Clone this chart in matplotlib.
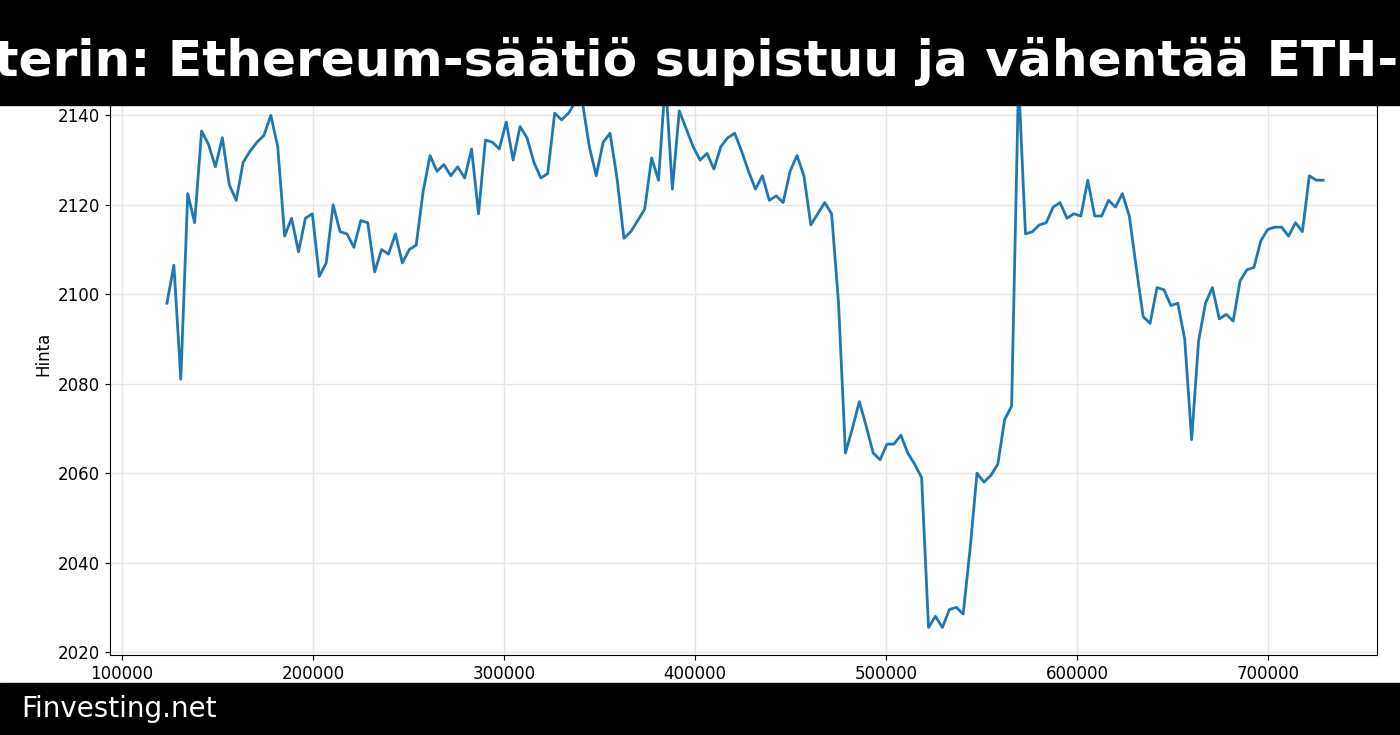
import numpy as np
import matplotlib
matplotlib.use("Agg")
import matplotlib.pyplot as plt

title = "Vitalik Buterin: Ethereum-säätiö supistuu ja vähentää ETH-myyntiä"
footer = "Finvesting.net"
ylabel = "Hinta"

prices = [
    2098, 2106.5, 2081, 2122.5, 2116, 2136.5, 2133.5, 2128.5, 2135, 2124.5,
    2121, 2129.5, 2132, 2134, 2135.5, 2140, 2133, 2113, 2117, 2109.5,
    2117, 2118, 2104, 2107, 2120, 2114, 2113.5, 2110.5, 2116.5, 2116,
    2105, 2110, 2109, 2113.5, 2107, 2110, 2111, 2123, 2131, 2127.5,
    2129, 2126.5, 2128.5, 2126, 2132.5, 2118, 2134.5, 2134, 2132.5, 2138.5,
    2130, 2137.5, 2135, 2129.5, 2126, 2127, 2140.5, 2139, 2140.5, 2143,
    2143, 2133, 2126.5, 2134, 2136, 2126, 2112.5, 2114, 2116.5, 2119,
    2130.5, 2125.5, 2148, 2123.5, 2141, 2137, 2133, 2130, 2131.5, 2128,
    2133, 2135, 2136, 2132, 2127.5, 2123.5, 2126.5, 2121, 2122, 2120.5,
    2127.5, 2131, 2126.5, 2115.5, 2118, 2120.5, 2118, 2098, 2064.5, 2070,
    2076, 2070.5, 2064.5, 2063, 2066.5, 2066.5, 2068.5, 2064.5, 2062, 2059,
    2025.5, 2028, 2025.5, 2029.5, 2030, 2028.5, 2043, 2060, 2058, 2059.5,
    2062, 2072, 2075, 2148, 2113.5, 2114, 2115.5, 2116, 2119.5, 2120.5,
    2117, 2118, 2117.5, 2125.5, 2117.5, 2117.5, 2121, 2119.5, 2122.5, 2117.5,
    2106, 2095, 2093.5, 2101.5, 2101, 2097.5, 2098, 2090, 2067.5, 2089.5,
    2098, 2101.5, 2094.5, 2095.5, 2094, 2103, 2105.5, 2106, 2112, 2114.5,
    2115, 2115, 2113, 2116, 2114, 2126.5, 2125.5, 2125.5,
]
x_start, x_end = 123500, 728800
x = np.linspace(x_start, x_end, len(prices))

fig = plt.figure(figsize=(14, 7.35), dpi=100)
ax = fig.add_axes([0.0786, 0.109, 0.905, 0.82])
ax.plot(x, prices, color="#1f77b4", linewidth=2)
ax.set_xlim(93700, 757000)
ax.set_ylabel(ylabel, fontsize=12)
ax.grid(True, color="#e6e6e6", linewidth=1)
ax.tick_params(labelsize=12)
ax.set_xticks([100000, 200000, 300000, 400000, 500000, 600000, 700000])
ax.set_yticks([2020, 2040, 2060, 2080, 2100, 2120, 2140])

# banners
fig.patches.append(plt.Rectangle((0, 1 - 105 / 735), 1, 105 / 735, transform=fig.transFigure,
                                 color="black", zorder=10))
fig.patches.append(plt.Rectangle((0, 0), 1, 52 / 735, transform=fig.transFigure,
                                 color="black", zorder=10))
fig.text(0.5 - 26 / 1400, 1 - 62 / 735, title, color="white", fontsize=36.2, fontweight="bold",
         ha="center", va="center", zorder=11)
fig.text(21 / 1400, 26 / 735, footer, color="white", fontsize=20, ha="left", va="center",
         zorder=11)

fig.savefig("out.png", dpi=100)
